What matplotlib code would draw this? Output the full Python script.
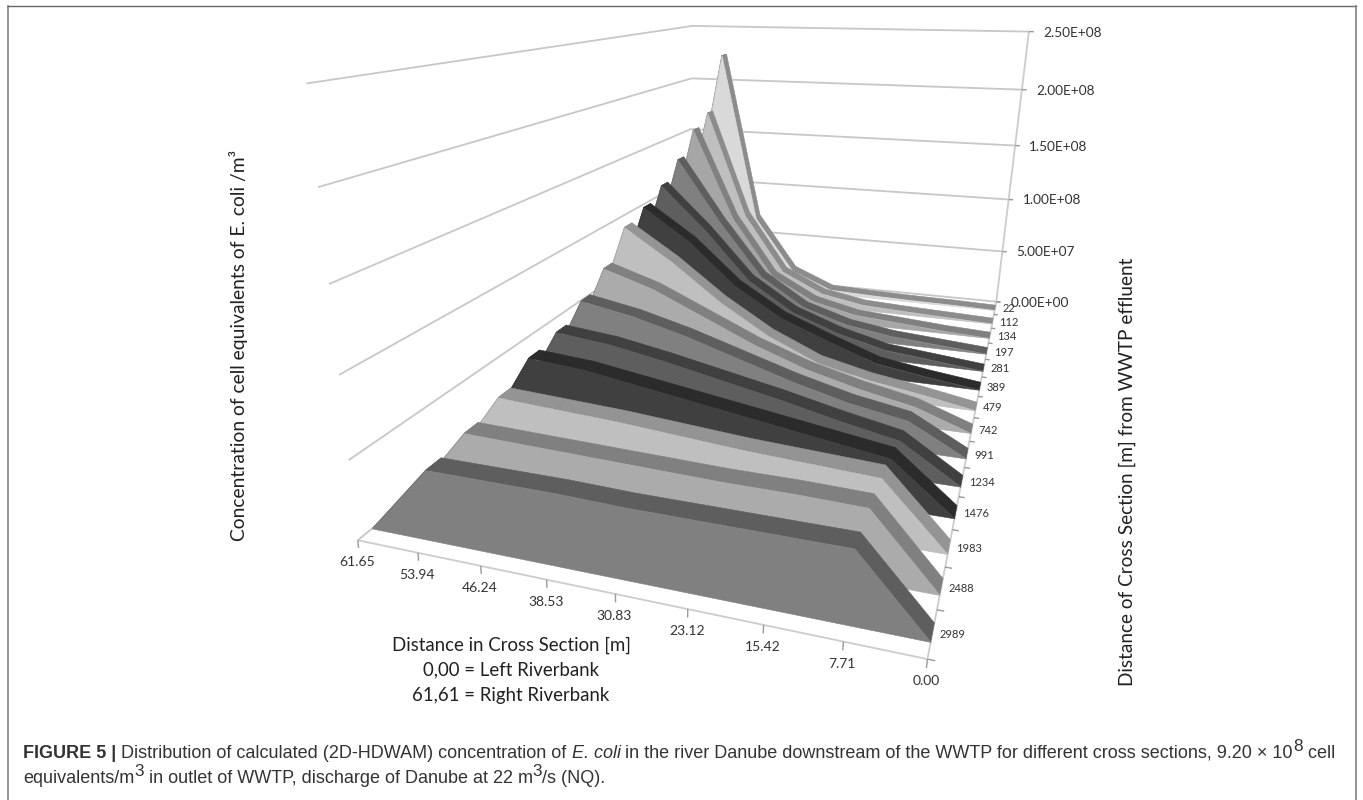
import numpy as np
import matplotlib
matplotlib.use("Agg")
import matplotlib.pyplot as plt
from mpl_toolkits.mplot3d import Axes3D
from mpl_toolkits.mplot3d.art3d import Poly3DCollection, Line3DCollection

# ---------- data ----------
cross_positions = [61.65, 53.94, 46.24, 38.53, 30.83, 23.12, 15.42, 7.71, 0.00]
cross_labels = ["61.65", "53.94", "46.24", "38.53", "30.83", "23.12", "15.42", "7.71", "0.00"]
section_labels = ["2989", "2488", "1983", "1476", "1234", "991", "742", "479", "389", "281", "197", "134", "112", "22"]
conc_ticks = [0.0, 5e7, 1e8, 1.5e8, 2e8, 2.5e8]
conc_labels = ["0.00E+00", "5.00E+07", "1.00E+08", "1.50E+08", "2.00E+08", "2.50E+08"]

# concentration per section, front to back, in units of 1e7
c_2989 = [0, 4.4, 4.4, 4.4, 4.3, 4.3, 4.3, 4.3, 0]
c_2488 = [0, 4.8, 4.7, 4.6, 4.5, 4.4, 4.4, 4.3, 0]
c_1983 = [0, 5.4, 5.2, 5.0, 4.7, 4.4, 4.2, 4.0, 0]
c_1476 = [0, 6.5, 6.2, 5.6, 5.0, 4.4, 3.8, 3.2, 0]
c_1234 = [0, 6.9, 6.5, 5.8, 5.0, 4.2, 3.3, 2.5, 0]
c_991 = [0, 7.9, 7.2, 6.2, 5.0, 3.8, 2.8, 2.1, 0]
c_742 = [0, 9.2, 8.0, 6.3, 4.6, 3.2, 2.2, 1.4, 0]
c_479 = [0, 11.4, 9.0, 6.2, 3.9, 2.2, 1.3, 0.7, 0]
c_389 = [0, 12.1, 9.6, 6.3, 4.0, 2.5, 1.1, 0.5, 0]
c_281 = [0, 13.1, 9.6, 5.6, 3.2, 1.8, 0.8, 0.4, 0]
c_197 = [0, 14.6, 9.4, 4.8, 2.4, 1.2, 0.6, 0.3, 0]
c_134 = [0, 16.6, 8.8, 3.7, 1.7, 0.8, 0.5, 0.2, 0]
c_112 = [0, 17.6, 8.2, 3.0, 1.2, 0.5, 0.3, 0.15, 0]
c_22 = [0, 22.5, 7.0, 2.0, 0.4, 0.25, 0.15, 0.1, 0]
sections = [c_2989, c_2488, c_1983, c_1476, c_1234, c_991, c_742, c_479, c_389, c_281, c_197, c_134, c_112, c_22]

# ---------- style ----------
face_grey = [.50, .67, .75, .25, .37, .50, .67, .75, .25, .37, .50, .65, .75, .85]
top_grey = [.37, .50, .58, .17, .25, .37, .50, .58, .17, .25, .37, .50, .55, .55]
RIBBON_FRONT, RIBBON_BACK = 0.33, 0.72
W, H = 1363, 800
LABEL_FONT = ["Lato", "DejaVu Sans"]
CAP_FONT = ["Liberation Sans", "DejaVu Sans"]

# camera calibration: axis landmarks (cross pos, section pos, conc/1e7) -> picture pixel
landmarks = [
    (0, 0, 0, 928, 658), (7.71, 0, 0, 843, 642), (15.42, 0, 0, 762, 625), (23.12, 0, 0, 687, 610),
    (30.83, 0, 0, 615, 594), (38.53, 0, 0, 546, 580), (46.24, 0, 0, 481, 566), (53.94, 0, 0, 418, 553),
    (61.65, 0, 0, 359, 540), (0, 14, 0, 997, 302), (0, 14, 5, 1002, 251), (0, 14, 10, 1008, 199),
    (0, 14, 15, 1015, 146), (0, 14, 20, 1022, 89), (0, 14, 25, 1029, 32),
    (61.65, 0, 5, 348, 459), (61.65, 0, 10, 339, 375), (61.65, 0, 15, 329, 284),
    (61.65, 0, 20, 318, 188), (61.65, 0, 25, 306, 84),
    (61.65, 14, 15, 690, 129), (61.65, 14, 20, 693, 78),
    (0, 0.5, 0, 933, 632), (0, 1.5, 0, 942, 587), (0, 2.5, 0, 949, 548), (0, 3.5, 0, 956, 513),
    (0, 4.5, 0, 962, 482), (0, 6.5, 0, 973, 429), (0, 8.5, 0, 980, 387), (0, 10.5, 0, 986, 351),
    (0, 12.5, 0, 992, 322),
]


def fit_camera(pts):
    rows = []
    for x, y, z, u, v in pts:
        rows.append([x, y, z, 1, 0, 0, 0, 0, -u * x, -u * y, -u * z, -u])
        rows.append([0, 0, 0, 0, x, y, z, 1, -v * x, -v * y, -v * z, -v])
    _, _, vt = np.linalg.svd(np.array(rows, float))
    P = vt[-1].reshape(3, 4)
    P[:, 2] /= 1e7       # third data column is in real concentration
    return P


P = fit_camera(landmarks)


def to_pixel(x, t, z):
    q = P @ np.array([x, t, z, 1.0])
    return q[0] / q[2], q[1] / q[2]


fig = plt.figure(figsize=(W / 100, H / 100), dpi=100, facecolor="white")
side = W / H
ax = fig.add_axes([0, (1 - side) / 2, 1, side], projection="3d", computed_zorder=False)
ax.set_axis_off()
ax.patch.set_alpha(0)


def pixel_camera():
    """4x4 matrix taking data coordinates to the axes' own view coordinates."""
    inv = ax.transData.inverted()
    o, ex, ey = inv.transform([(0, H), (1, H), (0, H - 1)])
    A = np.array([[ex[0] - o[0], ey[0] - o[0], o[0]],
                  [ex[1] - o[1], ey[1] - o[1], o[1]],
                  [0, 0, 1]])
    Q = A @ P
    null = np.linalg.svd(Q)[2][-1]
    return np.array([Q[0], Q[1], null * np.abs(Q).max(), Q[2]])


ax.get_proj = pixel_camera


def lines(segments, color, lw=1.0, zorder=1):
    coll = Line3DCollection(segments, colors=color, linewidths=lw, zorder=zorder, capstyle="butt")
    ax.add_collection3d(coll, autolim=False)


x_far, x_near = cross_positions[0], cross_positions[-1]
t_max = len(sections)
# walls
wall_segments = []
for z in conc_ticks:
    wall_segments.append([(x_far, 0, z), (x_far, t_max, z), (x_near, t_max, z)])
lines(wall_segments, "0.78", 1.3, 1)
lines([[(x_far, 0, 0), (x_near, 0, 0)], [(x_near, 0, 0), (x_near, t_max, 0)],
       [(x_near, t_max, 0), (x_near, t_max, conc_ticks[-1])]], "0.80", 1.3, 2)
# ticks
tick_segments = [[(x, 0, 0), (x, 0, -0.5e7)] for x in cross_positions]
tick_segments += [[(x_near, t, 0), (-0.7, t, 0)] for t in range(t_max + 1)]
tick_segments += [[(x_near, t_max, z), (-0.8, t_max, z)] for z in conc_ticks]
lines(tick_segments, "0.6", 1.0, 2)

# ribbons, far to near
order = 10
for i in range(len(sections) - 1, -1, -1):
    zs = np.array(sections[i], float) * 1e7
    xs = np.array(cross_positions, float)
    tf, tb = i + RIBBON_FRONT, i + RIBBON_BACK
    fc = str(face_grey[i])
    tc = str(top_grey[i])
    quads = []
    for k in range(len(xs) - 1):
        quads.append([(xs[k], tf, zs[k]), (xs[k + 1], tf, zs[k + 1]), (xs[k + 1], tb, zs[k + 1]), (xs[k], tb, zs[k])])
    strip = Poly3DCollection(quads, facecolors=tc, edgecolors=tc, linewidths=0.4, zorder=order)
    ax.add_collection3d(strip, autolim=False)
    order += 1
    front = Poly3DCollection([list(zip(xs, [tf] * len(xs), zs))], facecolors=fc, edgecolors=fc, linewidths=0.4, zorder=order)
    ax.add_collection3d(front, autolim=False)
    order += 1


def label(px, py, s, **kw):
    fig.text(px / W, 1 - py / H, s, **kw)


# tick labels
lab_kw = dict(family=LABEL_FONT, color="0.2", va="center")
for x, s in zip(cross_positions, cross_labels):
    u, v = to_pixel(x, 0, 0)
    label(u - 1, v + 22, s, ha="center", fontsize=10, **lab_kw)
for i, s in enumerate(section_labels):
    u, v = to_pixel(x_near, i + 0.5, 0)
    label(u + 7, v + 1, s, ha="left", fontsize=8.0, **lab_kw)
for z, s in zip(conc_ticks, conc_labels):
    u, v = to_pixel(x_near, t_max, z)
    label(u + 14, v + 1, s, ha="left", fontsize=9.8, **lab_kw)

# axis titles
title_kw = dict(family=LABEL_FONT, color="0.13")
label(238, 345, "Concentration of cell equivalents of E. coli /m³", rotation=90, ha="center", va="center", fontsize=13.9, **title_kw)
label(1127, 472, "Distance of Cross Section [m] from WWTP effluent", rotation=90, ha="center", va="center", fontsize=13.7, **title_kw)
for y, s in zip([645, 670, 696], ["Distance in Cross Section [m]", "0,00 = Left Riverbank", "61,61 = Right Riverbank"]):
    label(511, y, s, ha="center", va="center", fontsize=13.4, **title_kw)

# caption
renderer = fig.canvas.get_renderer()
CAP_SIZE = 13.0


def caption(x, y, parts):
    for s, kw in parts:
        style = dict(family=CAP_FONT, fontsize=CAP_SIZE, color="0.2", va="baseline", ha="left")
        dy = 0
        if kw == "b":
            style["fontweight"] = "bold"
        elif kw == "i":
            style["fontstyle"] = "italic"
        elif kw == "s":
            style["fontsize"] = CAP_SIZE * 0.95
            dy = 7
        fig.text(x / W, 1 - (y - dy) / H, s, **style)
        # measure with non-breaking spaces so edge spaces count in the advance
        wd = fig.text(0, 0, s.replace(" ", "\u00a0"), **style)
        x += wd.get_window_extent(renderer).width
        wd.remove()


caption(23, 758, [("FIGURE 5 |", "b"), (" Distribution of calculated (2D-HDWAM) concentration of ", ""), ("E. coli", "i"),
                  (" in the river Danube downstream of the WWTP for different cross sections, 9.20 × 10", ""), ("8", "s"), (" cell", "")])
caption(23, 783, [("equivalents/m", ""), ("3", "s"), (" in outlet of WWTP, discharge of Danube at 22 m", ""), ("3", "s"), ("/s (NQ).", "")])

# frame, open at the bottom
fig.add_artist(plt.Line2D([8 / W, 8 / W], [0, 1 - 6 / H], color="0.5", lw=1.2))
fig.add_artist(plt.Line2D([8 / W, 1356 / W], [1 - 6 / H, 1 - 6 / H], color="0.4", lw=1.0))
fig.add_artist(plt.Line2D([1356 / W, 1356 / W], [0, 1 - 6 / H], color="0.5", lw=1.2))

fig.savefig("out.png", dpi=100)
